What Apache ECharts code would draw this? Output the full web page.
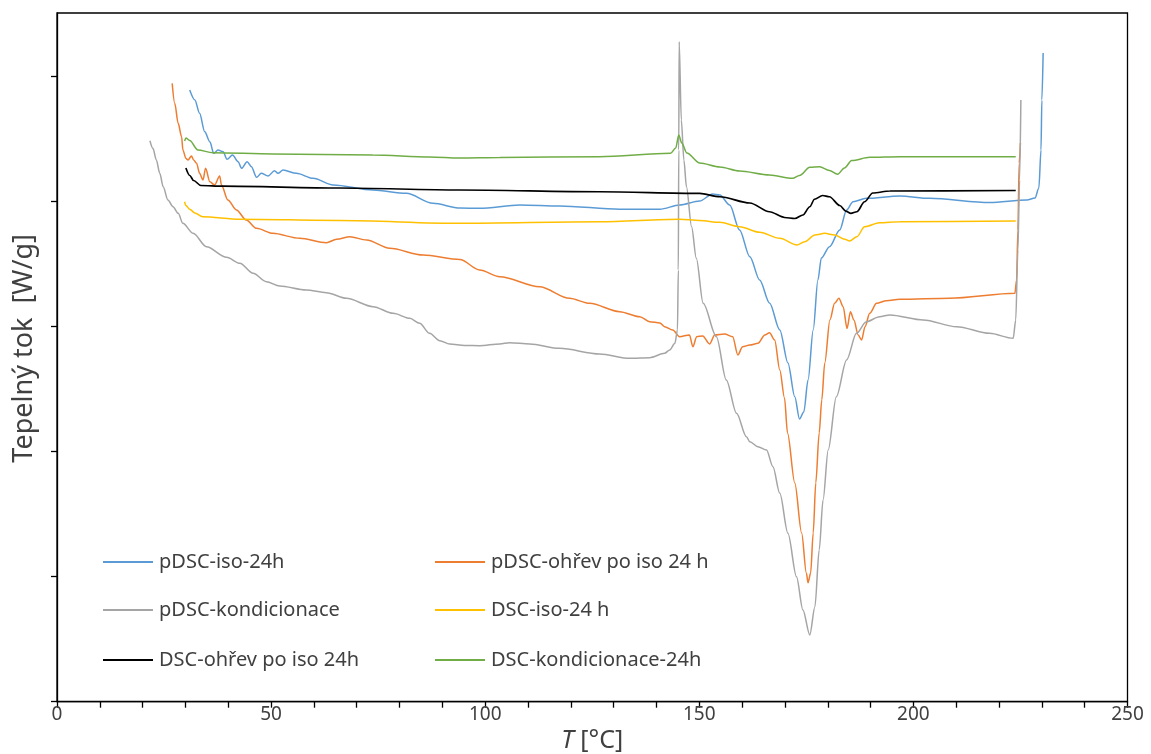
<!DOCTYPE html>
<html>
<head>
<meta charset="utf-8">
<script src="https://cdn.jsdelivr.net/npm/echarts@6/dist/echarts.min.js"></script>
<style>
html,body{margin:0;padding:0;background:#fff;}
#chart{width:1151px;height:754px;}
</style>
</head>
<body>
<div id="chart"></div>
<script>
// Series names (legend order)
const seriesNames = [
  'pDSC-iso-24h',
  'pDSC-ohřev po iso 24 h',
  'pDSC-kondicionace',
  'DSC-iso-24 h',
  'DSC-ohřev po iso 24h',
  'DSC-kondicionace-24h'
];
const xTickLabels = [0, 50, 100, 150, 200, 250];
const yTicks = [0, 1, 2, 3, 4, 5];

// [T (°C), heat flow (arbitrary, unlabeled axis units)]
const pdscIso24h = [
  [31.0,4.894],[32.2,4.814],[33.3,4.707],[34.5,4.56],[35.7,4.48],[36.6,4.387],[37.6,4.414],[38.8,4.40],
  [39.7,4.339],[41.0,4.374],[42.3,4.32],[43.1,4.267],[44.4,4.32],[45.4,4.28],[46.6,4.195],[47.7,4.227],
  [49.3,4.206],[50.8,4.248],[51.6,4.227],[52.8,4.254],[55.9,4.227],[59.8,4.187],[64.5,4.134],[73.8,4.094],
  [81.6,4.067],[87.8,3.987],[94.1,3.95],[98.7,3.947],[108.1,3.974],[117.4,3.966],[131.4,3.94],[140.8,3.94],
  [145.4,3.974],[150.1,4.006],[153.1,4.062],[154.8,4.054],[157.1,3.974],[159.4,3.774],[161.8,3.56],
  [164.1,3.374],[166.4,3.19],[168.8,2.974],[170.7,2.71],[172.3,2.44],[173.4,2.262],[174.4,2.318],
  [175.4,2.574],[176.6,2.974],[177.7,3.374],[178.5,3.55],[180.4,3.64],[182.8,3.774],[184.4,3.934],
  [185.9,4.00],[189.0,4.027],[196.8,4.046],[203.8,4.027],[217.8,3.994],[226.5,4.014],[228.4,4.03],
  [229.3,4.11],[229.8,4.414],[230.0,4.814],[230.3,5.19]
];
const pdscOhrev = [
  [26.9,4.947],[27.5,4.787],[28.3,4.627],[29.1,4.52],[29.4,4.414],[30.1,4.347],[30.6,4.334],[31.4,4.366],
  [31.9,4.334],[32.6,4.307],[33.3,4.227],[34.1,4.174],[34.7,4.267],[35.7,4.16],[36.8,4.134],[38.0,4.206],
  [38.4,4.134],[39.9,4.014],[41.9,3.934],[44.2,3.854],[46.6,3.787],[50.4,3.747],[56.7,3.707],[62.9,3.672],
  [65.3,3.70],[68.4,3.72],[72.3,3.694],[77.7,3.627],[85.5,3.574],[94.1,3.538],[98.7,3.454],[103.4,3.40],
  [112.7,3.32],[119.7,3.227],[124.4,3.187],[131.4,3.12],[136.1,3.08],[138.4,3.04],[140.8,3.03],[141.9,3.00],
  [143.8,2.974],[145.4,2.92],[147.7,2.934],[148.5,2.84],[149.4,2.92],[150.8,2.926],[152.4,2.862],
  [153.6,2.934],[155.9,2.942],[157.8,2.92],[159.0,2.774],[160.1,2.84],[161.8,2.854],[163.7,2.867],
  [165.3,2.934],[166.4,2.952],[167.6,2.894],[168.8,2.654],[169.9,2.43],[170.6,2.15],[172.3,1.75],
  [173.9,1.35],[175.0,1.03],[175.4,0.952],[176.0,1.03],[176.6,1.35],[177.2,1.75],[178.0,2.15],
  [178.6,2.414],[179.3,2.71],[180.5,3.054],[181.6,3.187],[182.6,3.227],[183.6,3.16],[184.5,2.987],
  [185.3,3.12],[186.1,3.054],[187.1,2.934],[187.9,2.894],[188.7,3.00],[189.8,3.107],[191.4,3.187],
  [193.7,3.208],[196.8,3.219],[208.5,3.227],[223.7,3.267],[224.1,3.374],[224.4,3.774],[224.7,4.31],[225.0,4.47]
];
const pdscKondicionace = [
  [21.7,4.488],[22.4,4.427],[23.2,4.334],[24.0,4.227],[24.8,4.12],[25.9,4.014],[27.1,3.96],[28.3,3.907],
  [29.4,3.827],[31.8,3.747],[34.9,3.64],[39.6,3.555],[42.7,3.507],[45.8,3.427],[48.9,3.36],[52.0,3.326],
  [58.2,3.294],[62.9,3.272],[67.6,3.227],[73.8,3.16],[78.5,3.107],[82.4,3.067],[84.7,3.027],[87.0,2.947],
  [89.4,2.888],[91.7,2.862],[95.2,2.85],[98.7,2.848],[103.4,2.862],[105.7,2.872],[110.4,2.862],
  [117.4,2.827],[126.7,2.782],[133.8,2.747],[138.4,2.752],[141.9,2.787],[143.1,2.814],[144.3,2.867],
  [144.9,2.974],[145.1,3.454],[145.2,4.414],[145.3,5.28],[145.8,4.654],[146.4,4.334],[147.0,4.12],
  [148.2,3.80],[149.3,3.547],[150.9,3.187],[154.0,2.92],[156.3,2.574],[158.7,2.307],[161.0,2.12],
  [161.8,2.08],[163.7,2.04],[165.7,2.014],[167.2,1.88],[168.8,1.667],[170.7,1.347],[172.7,1.00],
  [174.2,0.734],[175.8,0.534],[177.0,0.76],[178.0,1.214],[178.9,1.614],[180.1,2.014],[182.0,2.44],
  [184.4,2.734],[186.7,2.947],[189.0,3.04],[192.1,3.08],[194.5,3.094],[202.3,3.054],[210.1,3.00],
  [217.8,2.947],[223.3,2.907],[223.9,3.054],[224.4,3.614],[224.8,4.174],[225.1,4.814]
];
const dscIso24h = [
  [29.8,4.00],[30.1,3.97],[31.0,3.94],[32.2,3.91],[34.0,3.88],[42.7,3.86],[66.0,3.85],[94.0,3.827],
  [126.7,3.84],[145.4,3.86],[150.1,3.85],[154.8,3.835],[159.4,3.80],[164.1,3.755],[168.8,3.707],
  [172.8,3.654],[174.6,3.68],[177.0,3.734],[179.3,3.747],[181.6,3.734],[184.0,3.70],[185.1,3.686],
  [186.8,3.72],[188.6,3.80],[192.1,3.832],[196.8,3.84],[223.9,3.845]
];
const dscOhrev = [
  [30.1,4.27],[31.0,4.21],[31.9,4.17],[33.6,4.13],[38.7,4.125],[66.0,4.11],[94.0,4.094],[126.7,4.08],
  [150.1,4.067],[154.8,4.04],[161.8,3.99],[166.4,3.92],[169.9,3.874],[172.3,3.866],[174.2,3.894],
  [175.8,3.96],[176.9,4.02],[178.8,4.05],[180.4,4.04],[182.8,3.97],[184.2,3.925],[185.4,3.907],
  [186.8,3.92],[188.6,4.00],[190.5,4.07],[194.5,4.086],[223.9,4.09]
];
const dscKondicionace = [
  [29.8,4.486],[30.1,4.51],[31.0,4.49],[32.9,4.414],[36.4,4.392],[50.4,4.382],[73.7,4.374],[87.0,4.358],
  [94.0,4.35],[103.4,4.354],[126.7,4.36],[143.3,4.387],[144.5,4.43],[145.2,4.534],[145.9,4.47],
  [147.1,4.39],[150.1,4.31],[154.8,4.278],[159.4,4.246],[166.4,4.214],[171.8,4.187],[173.4,4.21],
  [175.8,4.275],[178.1,4.28],[180.4,4.25],[182.3,4.22],[183.9,4.27],[185.6,4.33],[189.8,4.355],
  [196.8,4.36],[208.5,4.36],[223.9,4.36]
];

const seriesData = [pdscIso24h, pdscOhrev, pdscKondicionace, dscIso24h, dscOhrev, dscKondicionace];
const colors = ['#5B9BD5', '#ED7D31', '#A5A5A5', '#FFC000', '#000000', '#70AD47'];
const widths = [1.5, 1.5, 1.5, 1.5, 1.7, 1.5];

const FONT = '"Noto Sans", "Open Sans", sans-serif';
const chart = echarts.init(document.getElementById('chart'));

// thin horizontal line icon inside a 50x20 box (tiny corner marks fix the bounding box)
const LINE_ICON = 'path://M0,0L0.01,0L0,0.01Z M0,9.1L50,9.1L50,10.9L0,10.9Z M50,20L49.99,20L50,19.99Z';

const legendPos = [
  [103, 552], [435, 552],
  [103, 600], [435, 600],
  [103, 650], [435, 650]
];
const legends = seriesNames.map((n, i) => ({
  data: [n],
  left: legendPos[i][0],
  top: legendPos[i][1],
  padding: 0,
  icon: LINE_ICON,
  itemWidth: 50,
  itemHeight: 20,
  itemGap: 0,
  selectedMode: false,
  textStyle: { fontSize: 20, lineHeight: 20, color: '#404040', fontFamily: FONT, padding: [0, 0, 0, 1] }
}));

chart.setOption({
  animation: false,
  backgroundColor: '#ffffff',
  color: colors,
  grid: {
    left: 57, right: 23.5, top: 13, bottom: 52.3,
    outerBoundsMode: 'none',
    containLabel: false,
    show: true, borderColor: '#000', borderWidth: 1.3, backgroundColor: 'transparent'
  },
  legend: legends,
  xAxis: {
    type: 'value', min: 0, max: 250, interval: 10,
    name: '{i|T} [°C]', nameLocation: 'middle', nameGap: 23,
    nameTextStyle: {
      fontSize: 25, color: '#404040', fontFamily: FONT,
      rich: { i: { fontStyle: 'italic', fontSize: 25, color: '#404040', fontFamily: FONT } }
    },
    axisLine: { show: true, lineStyle: { color: '#000', width: 1.3 } },
    axisTick: { show: true, length: 6, lineStyle: { color: '#000', width: 1.3 } },
    axisLabel: {
      fontSize: 19, color: '#404040', fontFamily: FONT, margin: 3,
      formatter: v => (xTickLabels.indexOf(v) >= 0 ? String(v) : '')
    },
    splitLine: { show: false }
  },
  yAxis: {
    type: 'value', min: 0, max: 5.51,
    name: 'Tepelný tok  [W/g]', nameLocation: 'middle', nameGap: 19,
    nameTextStyle: { fontSize: 27, color: '#404040', fontFamily: FONT, padding: [0, 0, 0, 18] },
    axisLine: { show: true, lineStyle: { color: '#000', width: 1.3 } },
    axisTick: { show: true, length: 6, customValues: yTicks, lineStyle: { color: '#000', width: 1.3 } },
    axisLabel: { show: false },
    splitLine: { show: false }
  },
  series: seriesNames.map((n, i) => ({
    name: n,
    type: 'line',
    data: seriesData[i],
    showSymbol: false,
    symbol: 'none',
    smooth: 0.3,
    smoothMonotone: 'x',
    lineStyle: { color: colors[i], width: widths[i] },
    itemStyle: { color: colors[i] },
    emphasis: { disabled: true }
  }))
});
</script>
</body>
</html>
